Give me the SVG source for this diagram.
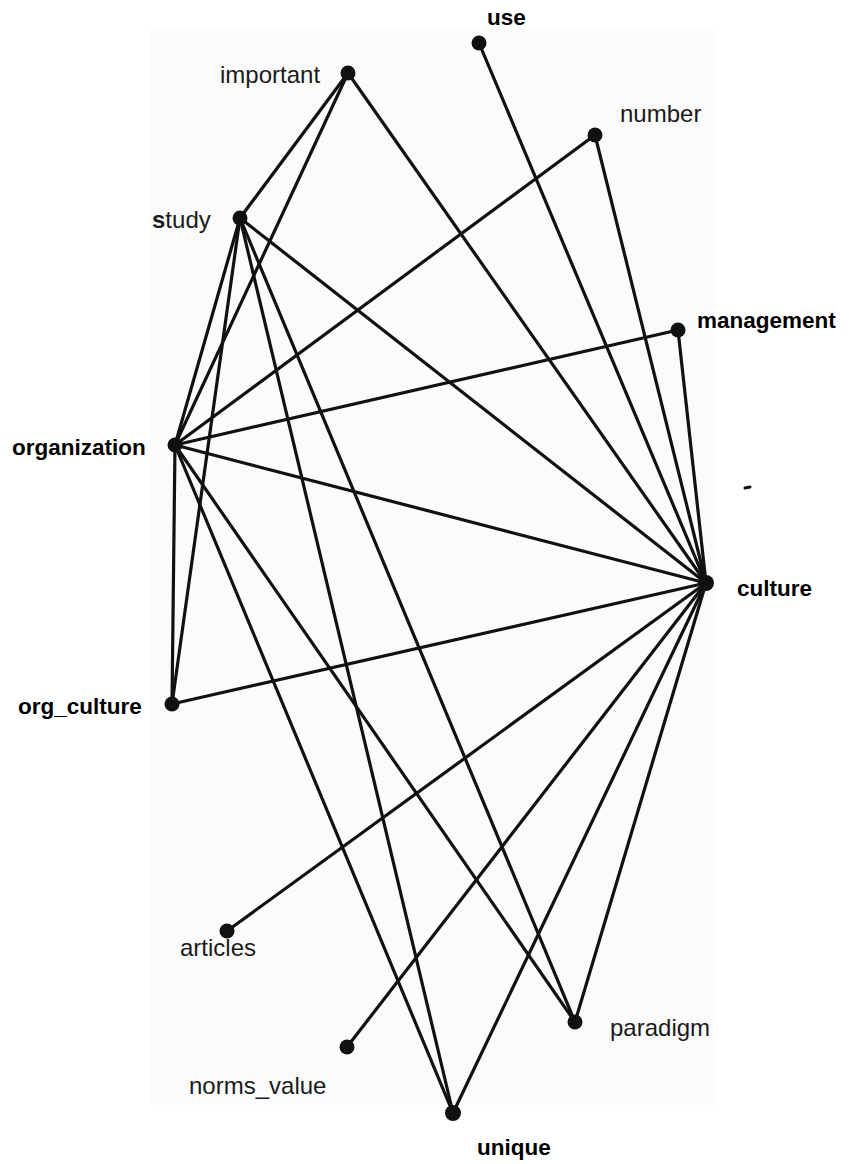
<svg xmlns="http://www.w3.org/2000/svg" width="849" height="1164" viewBox="0 0 849 1164">
  <style>
    .edge { stroke: #111; stroke-width: 3.2; stroke-linecap: round; fill: none; }
    .dot { fill: #111; }
    .lbl { font-family: "Liberation Sans", Arial, sans-serif; font-size: 24px; fill: #1a1a1a; }
    .bold { font-weight: bold; font-size: 22.5px; fill: #000; }
  </style>
  <rect x="0" y="0" width="849" height="1164" fill="#ffffff"/>
  <!-- plot area -->
  <rect x="150" y="30" width="566" height="1075" fill="#fbfbfb"/>

  <g id="connectors">
    <!-- important -->
    <line class="edge" x1="348" y1="73" x2="240" y2="218"/>
    <line class="edge" x1="348" y1="73" x2="175" y2="445"/>
    <line class="edge" x1="348" y1="73" x2="706" y2="583"/>
    <!-- use / number / management -->
    <line class="edge" x1="479" y1="43" x2="706" y2="583"/>
    <line class="edge" x1="595" y1="135" x2="175" y2="445"/>
    <line class="edge" x1="595" y1="135" x2="706" y2="583"/>
    <line class="edge" x1="678" y1="330" x2="175" y2="445"/>
    <line class="edge" x1="678" y1="330" x2="706" y2="583"/>
    <!-- study -->
    <line class="edge" x1="240" y1="218" x2="175" y2="445"/>
    <line class="edge" x1="240" y1="218" x2="172" y2="704"/>
    <line class="edge" x1="240" y1="218" x2="706" y2="583"/>
    <line class="edge" x1="240" y1="218" x2="453" y2="1113"/>
    <line class="edge" x1="240" y1="218" x2="575" y2="1022"/>
    <!-- organization -->
    <line class="edge" x1="175" y1="445" x2="706" y2="583"/>
    <line class="edge" x1="175" y1="445" x2="172" y2="704"/>
    <line class="edge" x1="175" y1="445" x2="453" y2="1113"/>
    <line class="edge" x1="175" y1="445" x2="575" y2="1022"/>
    <!-- remaining links into culture -->
    <line class="edge" x1="172" y1="704" x2="706" y2="583"/>
    <line class="edge" x1="227" y1="931" x2="706" y2="583"/>
    <line class="edge" x1="347" y1="1047" x2="706" y2="583"/>
    <line class="edge" x1="453" y1="1113" x2="706" y2="583"/>
    <line class="edge" x1="575" y1="1022" x2="706" y2="583"/>
  </g>

  <g id="node-use">
    <circle class="dot" cx="479" cy="43" r="7.5"/>
    <text class="lbl bold" x="487" y="25">use</text>
  </g>
  <g id="node-important">
    <circle class="dot" cx="348" cy="73" r="7.5"/>
    <text class="lbl" x="220" y="83">important</text>
  </g>
  <g id="node-number">
    <circle class="dot" cx="595" cy="135" r="7.5"/>
    <text class="lbl" x="620" y="122">number</text>
  </g>
  <g id="node-study">
    <circle class="dot" cx="240" cy="218" r="7.5"/>
    <text class="lbl" x="152" y="228"><tspan font-weight="bold">s</tspan>tudy</text>
  </g>
  <g id="node-management">
    <circle class="dot" cx="678" cy="330" r="7.5"/>
    <text class="lbl bold" x="697" y="328">management</text>
  </g>
  <g id="node-organization">
    <circle class="dot" cx="175" cy="445" r="7.5"/>
    <text class="lbl bold" x="12" y="455">organization</text>
  </g>
  <g id="node-culture">
    <circle class="dot" cx="706" cy="583" r="8"/>
    <text class="lbl bold" x="737" y="596">culture</text>
  </g>
  <g id="node-org_culture">
    <circle class="dot" cx="172" cy="704" r="7.5"/>
    <text class="lbl bold" x="18" y="714">org_culture</text>
  </g>
  <g id="node-articles">
    <circle class="dot" cx="227" cy="931" r="7.5"/>
    <text class="lbl" x="180" y="956">articles</text>
  </g>
  <g id="node-paradigm">
    <circle class="dot" cx="575" cy="1022" r="7.5"/>
    <text class="lbl" x="610" y="1036">paradigm</text>
  </g>
  <g id="node-norms_value">
    <circle class="dot" cx="347" cy="1047" r="7.5"/>
    <text class="lbl" x="189" y="1094">norms_value</text>
  </g>
  <g id="node-unique">
    <circle class="dot" cx="453" cy="1113" r="8"/>
    <text class="lbl bold" x="477" y="1155">unique</text>
  </g>

  <!-- stray mark -->
  <line x1="745" y1="488" x2="750" y2="487" stroke="#111" stroke-width="3" stroke-linecap="round"/>
</svg>
